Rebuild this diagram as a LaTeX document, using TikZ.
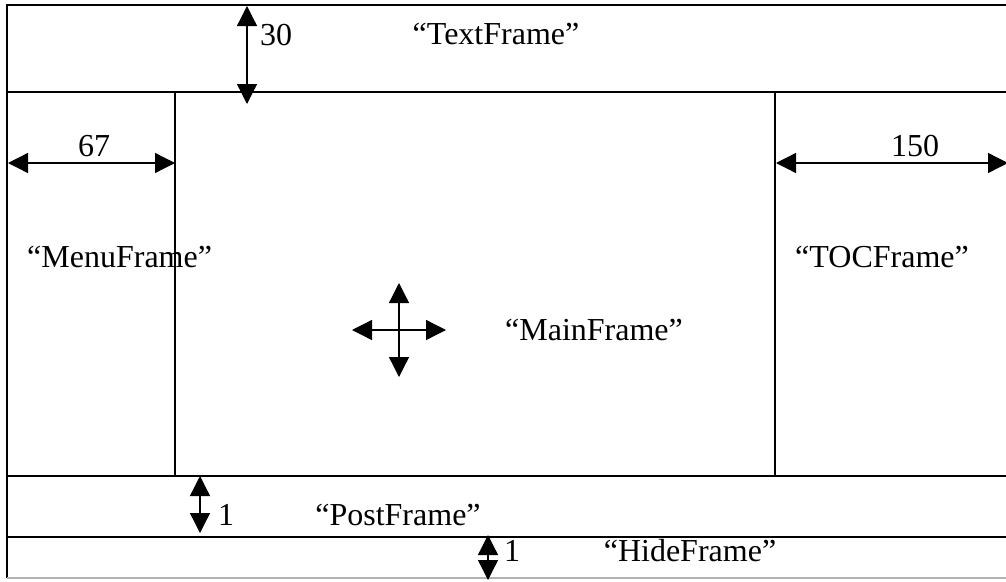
\documentclass[tikz,border=0pt]{standalone}
\usepackage{fontspec}
\setmainfont{Liberation Serif}
\usetikzlibrary{arrows.meta}
\begin{document}
\begin{tikzpicture}[x=1pt,y=-1pt,
  frameline/.style={line width=1.6pt,black},
  dimarrow/.style={line width=1.3pt,{Triangle[length=20pt,width=20pt]}-{Triangle[length=20pt,width=20pt]}},
  lbl/.style={inner sep=0pt,font=\fontsize{32}{38}\selectfont,anchor=base}]
\useasboundingbox (0,0) rectangle (1006,581);
% frame lines
\coordinate (tl) at (7,5);
\coordinate (tr) at (1006,5);
\coordinate (bl) at (7,578);
\coordinate (br) at (1006,578);
\coordinate (m1l) at (7,92);
\coordinate (m1r) at (1006,92);
\coordinate (m2l) at (7,476);
\coordinate (m2r) at (1006,476);
\coordinate (m3l) at (7,537);
\coordinate (m3r) at (1006,537);
\coordinate (v1t) at (175,92);
\coordinate (v1b) at (175,476);
\coordinate (v2t) at (775,92);
\coordinate (v2b) at (775,476);
\draw[frameline] (tr) -- (tl) -- (bl);
\draw[frameline,black!30] (bl) -- (br);
\draw[frameline] (m1l) -- (m1r);
\draw[frameline] (m2l) -- (m2r);
\draw[frameline] (m3l) -- (m3r);
\draw[frameline] (v1t) -- (v1b);
\draw[frameline] (v2t) -- (v2b);
% dimension arrows
\coordinate (a30t) at (247,6);
\coordinate (a30b) at (247,104);
\draw[dimarrow] (a30t) -- (a30b);
\coordinate (a67l) at (8,163);
\coordinate (a67r) at (175,163);
\draw[dimarrow] (a67l) -- (a67r);
\coordinate (a150l) at (776,163);
\coordinate (a150r) at (1008,163);
\draw[dimarrow] (a150l) -- (a150r);
\coordinate (cxl) at (352,330);
\coordinate (cxr) at (446,330);
\coordinate (cyt) at (399,283);
\coordinate (cyb) at (399,377);
\draw[dimarrow] (cxl) -- (cxr);
\draw[dimarrow] (cyt) -- (cyb);
\coordinate (p1t) at (200,476);
\coordinate (p1b) at (200,533);
\draw[dimarrow] (p1t) -- (p1b);
\coordinate (h1t) at (488,535);
\coordinate (h1b) at (488,580);
\draw[dimarrow] (h1t) -- (h1b);
% labels
\node[lbl,anchor=base west] (t30) at (260,45) {30};
\node[lbl] (textframe) at (496,44) {“TextFrame”};
\node[lbl] (t67) at (94,156) {67};
\node[lbl] (t150) at (915,156) {150};
\node[lbl,anchor=base west] (menu) at (27,267) {“MenuFrame”};
\node[lbl] (toc) at (882,267) {“TOCFrame”};
\node[lbl] (main) at (594,340) {“MainFrame”};
\node[lbl,anchor=base west] (t1a) at (218,525) {1};
\node[lbl] (post) at (398,525) {“PostFrame”};
\node[lbl,anchor=base west] (t1b) at (504,561) {1};
\node[lbl] (hide) at (690,561) {“HideFrame”};
\end{tikzpicture}
\end{document}
